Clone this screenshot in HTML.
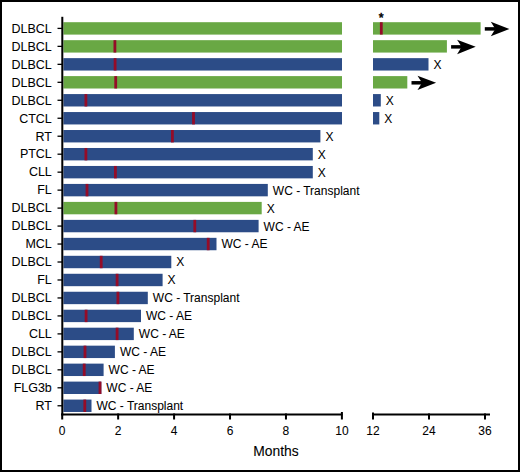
<!DOCTYPE html>
<html><head><meta charset="utf-8"><style>
html,body{margin:0;padding:0;background:#fff;}
body{width:520px;height:472px;overflow:hidden;}
.wrap{position:absolute;left:0;top:0;width:516px;height:468px;border:2px solid #000;background:#fff;}
svg{position:absolute;left:-2px;top:-2px;}
text{font-family:"Liberation Sans",sans-serif;fill:#000;}
.l{font-size:12px;stroke:#000;stroke-width:0.06px;}
.t{font-size:12px;stroke:#000;stroke-width:0.06px;}
.m{font-size:15px;stroke:#000;stroke-width:0.1px;}
.ast{font-size:12.5px;stroke:#000;stroke-width:0.5px;}
</style></head><body><div class="wrap">
<svg width="520" height="472" viewBox="0 0 520 472">
<rect x="63.4" y="22.20" width="278.60" height="12.4" fill="#69a844"/>
<rect x="373.0" y="22.20" width="107.60" height="12.4" fill="#69a844"/>
<rect x="379.90" y="22.20" width="2.8" height="12.4" fill="#940c28"/>
<text transform="translate(51.8 32.90) scale(1.04,1)" text-anchor="end" class="l">DLBCL</text>
<line x1="57.5" y1="28.40" x2="62" y2="28.40" stroke="#000" stroke-width="1.3"/>
<path d="M484.80 27.15 H495.80 V30.65 H484.80 Z" fill="#000"/>
<path d="M509.40 28.90 L490.80 21.80 L495.30 28.90 L490.80 36.20 Z" fill="#000"/>
<text x="381.30" y="22.30" text-anchor="middle" class="ast">*</text>
<rect x="63.4" y="40.17" width="278.60" height="12.4" fill="#69a844"/>
<rect x="373.0" y="40.17" width="73.90" height="12.4" fill="#69a844"/>
<rect x="113.50" y="40.17" width="2.8" height="12.4" fill="#940c28"/>
<text transform="translate(51.8 50.84) scale(1.04,1)" text-anchor="end" class="l">DLBCL</text>
<line x1="57.5" y1="46.37" x2="62" y2="46.37" stroke="#000" stroke-width="1.3"/>
<path d="M451.10 45.12 H462.10 V48.62 H451.10 Z" fill="#000"/>
<path d="M475.70 46.87 L457.10 39.77 L461.60 46.87 L457.10 54.17 Z" fill="#000"/>
<rect x="63.4" y="58.14" width="278.60" height="12.4" fill="#2c4c87"/>
<rect x="373.0" y="58.14" width="55.50" height="12.4" fill="#2c4c87"/>
<rect x="113.70" y="58.14" width="2.8" height="12.4" fill="#940c28"/>
<text transform="translate(51.8 68.78) scale(1.04,1)" text-anchor="end" class="l">DLBCL</text>
<line x1="57.5" y1="64.34" x2="62" y2="64.34" stroke="#000" stroke-width="1.3"/>
<text transform="translate(433.50 69.07)" class="l">X</text>
<rect x="63.4" y="76.11" width="278.60" height="12.4" fill="#69a844"/>
<rect x="373.0" y="76.11" width="34.30" height="12.4" fill="#69a844"/>
<rect x="114.30" y="76.11" width="2.8" height="12.4" fill="#940c28"/>
<text transform="translate(51.8 86.72) scale(1.04,1)" text-anchor="end" class="l">DLBCL</text>
<line x1="57.5" y1="82.31" x2="62" y2="82.31" stroke="#000" stroke-width="1.3"/>
<path d="M411.50 81.06 H422.50 V84.56 H411.50 Z" fill="#000"/>
<path d="M436.10 82.81 L417.50 75.71 L422.00 82.81 L417.50 90.11 Z" fill="#000"/>
<rect x="63.4" y="94.08" width="278.60" height="12.4" fill="#2c4c87"/>
<rect x="373.0" y="94.08" width="7.80" height="12.4" fill="#2c4c87"/>
<rect x="84.50" y="94.08" width="2.8" height="12.4" fill="#940c28"/>
<text transform="translate(51.8 104.66) scale(1.04,1)" text-anchor="end" class="l">DLBCL</text>
<line x1="57.5" y1="100.28" x2="62" y2="100.28" stroke="#000" stroke-width="1.3"/>
<text transform="translate(385.80 104.95)" class="l">X</text>
<rect x="63.4" y="112.05" width="278.60" height="12.4" fill="#2c4c87"/>
<rect x="373.0" y="112.05" width="6.30" height="12.4" fill="#2c4c87"/>
<rect x="192.10" y="112.05" width="2.8" height="12.4" fill="#940c28"/>
<text transform="translate(51.8 122.60) scale(1.04,1)" text-anchor="end" class="l">CTCL</text>
<line x1="57.5" y1="118.25" x2="62" y2="118.25" stroke="#000" stroke-width="1.3"/>
<text transform="translate(384.30 122.89)" class="l">X</text>
<rect x="63.4" y="130.02" width="257.00" height="12.4" fill="#2c4c87"/>
<rect x="171.00" y="130.02" width="2.8" height="12.4" fill="#940c28"/>
<text transform="translate(51.8 140.54) scale(1.04,1)" text-anchor="end" class="l">RT</text>
<line x1="57.5" y1="136.22" x2="62" y2="136.22" stroke="#000" stroke-width="1.3"/>
<text transform="translate(325.40 140.83)" class="l">X</text>
<rect x="63.4" y="147.99" width="249.40" height="12.4" fill="#2c4c87"/>
<rect x="84.50" y="147.99" width="2.8" height="12.4" fill="#940c28"/>
<text transform="translate(51.8 158.48) scale(1.04,1)" text-anchor="end" class="l">PTCL</text>
<line x1="57.5" y1="154.19" x2="62" y2="154.19" stroke="#000" stroke-width="1.3"/>
<text transform="translate(317.80 158.77)" class="l">X</text>
<rect x="63.4" y="165.96" width="249.40" height="12.4" fill="#2c4c87"/>
<rect x="114.00" y="165.96" width="2.8" height="12.4" fill="#940c28"/>
<text transform="translate(51.8 176.42) scale(1.04,1)" text-anchor="end" class="l">CLL</text>
<line x1="57.5" y1="172.16" x2="62" y2="172.16" stroke="#000" stroke-width="1.3"/>
<text transform="translate(317.80 176.71)" class="l">X</text>
<rect x="63.4" y="183.93" width="204.40" height="12.4" fill="#2c4c87"/>
<rect x="85.60" y="183.93" width="2.8" height="12.4" fill="#940c28"/>
<text transform="translate(51.8 194.36) scale(1.04,1)" text-anchor="end" class="l">FL</text>
<line x1="57.5" y1="190.13" x2="62" y2="190.13" stroke="#000" stroke-width="1.3"/>
<text transform="translate(272.80 194.65)" class="l">WC - Transplant</text>
<rect x="63.4" y="201.90" width="198.30" height="12.4" fill="#69a844"/>
<rect x="114.50" y="201.90" width="2.8" height="12.4" fill="#940c28"/>
<text transform="translate(51.8 212.30) scale(1.04,1)" text-anchor="end" class="l">DLBCL</text>
<line x1="57.5" y1="208.10" x2="62" y2="208.10" stroke="#000" stroke-width="1.3"/>
<text transform="translate(266.70 212.59)" class="l">X</text>
<rect x="63.4" y="219.87" width="195.20" height="12.4" fill="#2c4c87"/>
<rect x="193.40" y="219.87" width="2.8" height="12.4" fill="#940c28"/>
<text transform="translate(51.8 230.24) scale(1.04,1)" text-anchor="end" class="l">DLBCL</text>
<line x1="57.5" y1="226.07" x2="62" y2="226.07" stroke="#000" stroke-width="1.3"/>
<text transform="translate(263.60 230.53)" class="l">WC - AE</text>
<rect x="63.4" y="237.84" width="153.10" height="12.4" fill="#2c4c87"/>
<rect x="206.80" y="237.84" width="2.8" height="12.4" fill="#940c28"/>
<text transform="translate(51.8 248.18) scale(1.04,1)" text-anchor="end" class="l">MCL</text>
<line x1="57.5" y1="244.04" x2="62" y2="244.04" stroke="#000" stroke-width="1.3"/>
<text transform="translate(221.50 248.47)" class="l">WC - AE</text>
<rect x="63.4" y="255.81" width="107.90" height="12.4" fill="#2c4c87"/>
<rect x="99.80" y="255.81" width="2.8" height="12.4" fill="#940c28"/>
<text transform="translate(51.8 266.12) scale(1.04,1)" text-anchor="end" class="l">DLBCL</text>
<line x1="57.5" y1="262.01" x2="62" y2="262.01" stroke="#000" stroke-width="1.3"/>
<text transform="translate(176.30 266.41)" class="l">X</text>
<rect x="63.4" y="273.78" width="99.20" height="12.4" fill="#2c4c87"/>
<rect x="115.70" y="273.78" width="2.8" height="12.4" fill="#940c28"/>
<text transform="translate(51.8 284.06) scale(1.04,1)" text-anchor="end" class="l">FL</text>
<line x1="57.5" y1="279.98" x2="62" y2="279.98" stroke="#000" stroke-width="1.3"/>
<text transform="translate(167.60 284.35)" class="l">X</text>
<rect x="63.4" y="291.75" width="84.40" height="12.4" fill="#2c4c87"/>
<rect x="116.50" y="291.75" width="2.8" height="12.4" fill="#940c28"/>
<text transform="translate(51.8 302.00) scale(1.04,1)" text-anchor="end" class="l">DLBCL</text>
<line x1="57.5" y1="297.95" x2="62" y2="297.95" stroke="#000" stroke-width="1.3"/>
<text transform="translate(152.80 302.29)" class="l">WC - Transplant</text>
<rect x="63.4" y="309.72" width="77.60" height="12.4" fill="#2c4c87"/>
<rect x="84.70" y="309.72" width="2.8" height="12.4" fill="#940c28"/>
<text transform="translate(51.8 319.94) scale(1.04,1)" text-anchor="end" class="l">DLBCL</text>
<line x1="57.5" y1="315.92" x2="62" y2="315.92" stroke="#000" stroke-width="1.3"/>
<text transform="translate(146.00 320.23)" class="l">WC - AE</text>
<rect x="63.4" y="327.69" width="70.40" height="12.4" fill="#2c4c87"/>
<rect x="115.70" y="327.69" width="2.8" height="12.4" fill="#940c28"/>
<text transform="translate(51.8 337.88) scale(1.04,1)" text-anchor="end" class="l">CLL</text>
<line x1="57.5" y1="333.89" x2="62" y2="333.89" stroke="#000" stroke-width="1.3"/>
<text transform="translate(138.80 338.17)" class="l">WC - AE</text>
<rect x="63.4" y="345.66" width="51.50" height="12.4" fill="#2c4c87"/>
<rect x="83.60" y="345.66" width="2.8" height="12.4" fill="#940c28"/>
<text transform="translate(51.8 355.82) scale(1.04,1)" text-anchor="end" class="l">DLBCL</text>
<line x1="57.5" y1="351.86" x2="62" y2="351.86" stroke="#000" stroke-width="1.3"/>
<text transform="translate(119.90 356.11)" class="l">WC - AE</text>
<rect x="63.4" y="363.63" width="40.20" height="12.4" fill="#2c4c87"/>
<rect x="82.80" y="363.63" width="2.8" height="12.4" fill="#940c28"/>
<text transform="translate(51.8 373.76) scale(1.04,1)" text-anchor="end" class="l">DLBCL</text>
<line x1="57.5" y1="369.83" x2="62" y2="369.83" stroke="#000" stroke-width="1.3"/>
<text transform="translate(108.60 374.05)" class="l">WC - AE</text>
<rect x="63.4" y="381.60" width="37.90" height="12.4" fill="#2c4c87"/>
<rect x="98.60" y="381.60" width="2.8" height="12.4" fill="#940c28"/>
<text transform="translate(51.8 391.70) scale(1.04,1)" text-anchor="end" class="l">FLG3b</text>
<line x1="57.5" y1="387.80" x2="62" y2="387.80" stroke="#000" stroke-width="1.3"/>
<text transform="translate(106.30 391.99)" class="l">WC - AE</text>
<rect x="63.4" y="399.57" width="28.10" height="12.4" fill="#2c4c87"/>
<rect x="83.40" y="399.57" width="2.8" height="12.4" fill="#940c28"/>
<text transform="translate(51.8 409.64) scale(1.04,1)" text-anchor="end" class="l">RT</text>
<line x1="57.5" y1="405.77" x2="62" y2="405.77" stroke="#000" stroke-width="1.3"/>
<text transform="translate(96.50 409.93)" class="l">WC - Transplant</text>
<rect x="61.3" y="16.8" width="2" height="398.5" fill="#000"/>
<rect x="61.3" y="413.5" width="281.2" height="2" fill="#000"/>
<rect x="61.20" y="413.5" width="2" height="6.0" fill="#000"/>
<text x="62.20" y="435.4" text-anchor="middle" class="t">0</text>
<rect x="117.14" y="413.5" width="2" height="6.0" fill="#000"/>
<text x="118.14" y="435.4" text-anchor="middle" class="t">2</text>
<rect x="173.08" y="413.5" width="2" height="6.0" fill="#000"/>
<text x="174.08" y="435.4" text-anchor="middle" class="t">4</text>
<rect x="229.02" y="413.5" width="2" height="6.0" fill="#000"/>
<text x="230.02" y="435.4" text-anchor="middle" class="t">6</text>
<rect x="284.96" y="413.5" width="2" height="6.0" fill="#000"/>
<text x="285.96" y="435.4" text-anchor="middle" class="t">8</text>
<rect x="340.90" y="412.0" width="2" height="7.5" fill="#000"/>
<text x="341.90" y="435.4" text-anchor="middle" class="t">10</text>
<rect x="372.0" y="413.5" width="118.0" height="2" fill="#000"/>
<rect x="372.00" y="412.5" width="2" height="7.0" fill="#000"/>
<text x="373.00" y="435.4" text-anchor="middle" class="t">12</text>
<rect x="428.00" y="413.5" width="2" height="6.0" fill="#000"/>
<text x="429.00" y="435.4" text-anchor="middle" class="t">24</text>
<rect x="484.00" y="413.5" width="2" height="6.0" fill="#000"/>
<text x="485.00" y="435.4" text-anchor="middle" class="t">36</text>
<text x="276.0" y="456.3" text-anchor="middle" class="m" textLength="45.4" lengthAdjust="spacingAndGlyphs">Months</text>
</svg></div></body></html>
